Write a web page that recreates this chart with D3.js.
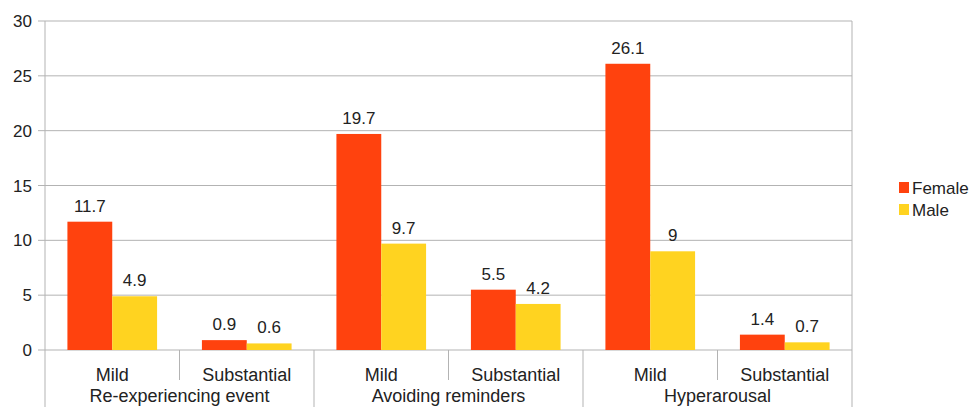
<!DOCTYPE html>
<html>
<head>
<meta charset="utf-8">
<script src="https://cdn.jsdelivr.net/npm/d3@7"></script>
<style>
  body { margin: 0; background: #fff; }
  text { font-family: "Liberation Sans", Arial, sans-serif; fill: #222; }
</style>
</head>
<body>
<div id="chart"></div>
<script>
var groups = ["Re-experiencing event", "Avoiding reminders", "Hyperarousal"];
var levels = ["Mild", "Substantial"];
var seriesNames = ["Female", "Male"];
var female = [11.7, 0.9, 19.7, 5.5, 26.1, 1.4];
var male = [4.9, 0.6, 9.7, 4.2, 9, 0.7];
var yTicks = [0, 5, 10, 15, 20, 25, 30];

var width = 976, height = 407;
var plotLeft = 45, plotRight = 852, plotTop = 21, plotBottom = 350;
var colors = {Female: "#ff420e", Male: "#ffd320"};
var gridColor = "#b3b3b3";

var svg = d3.select("#chart").append("svg")
    .attr("width", width).attr("height", height);

// one slot per group/level pair
var slots = [];
groups.forEach(function(g, gi) {
    levels.forEach(function(l, li) {
        slots.push({group: g, level: l, idx: gi * levels.length + li});
    });
});

var x0 = d3.scaleBand().domain(slots.map(function(d) { return d.idx; }))
    .range([plotLeft, plotRight]).padding(0);
var x1 = d3.scaleBand().domain(seriesNames)
    .range([0, x0.bandwidth()]).paddingInner(0).paddingOuter(0.5);
var y = d3.scaleLinear().domain([0, 30]).range([plotBottom, plotTop]);

// gridlines + tick marks
svg.append("g").selectAll("line")
    .data(yTicks).enter().append("line")
    .attr("x1", plotLeft - 7).attr("x2", plotRight)
    .attr("y1", function(d) { return y(d); })
    .attr("y2", function(d) { return y(d); })
    .attr("stroke", gridColor).attr("stroke-width", 1);

svg.append("g").selectAll("text")
    .data(yTicks).enter().append("text")
    .attr("x", plotLeft - 13)
    .attr("y", function(d) { return y(d) + 6; })
    .attr("text-anchor", "end")
    .style("font-size", "17px")
    .text(function(d) { return d; });

// bars
var barData = [];
slots.forEach(function(s) {
    barData.push({slot: s.idx, name: "Female", value: female[s.idx]});
    barData.push({slot: s.idx, name: "Male", value: male[s.idx]});
});

svg.append("g").selectAll("rect")
    .data(barData).enter().append("rect")
    .attr("x", function(d) { return x0(d.slot) + x1(d.name); })
    .attr("y", function(d) { return y(d.value); })
    .attr("width", x1.bandwidth())
    .attr("height", function(d) { return y(0) - y(d.value); })
    .attr("fill", function(d) { return colors[d.name]; });

svg.append("g").selectAll("text")
    .data(barData).enter().append("text")
    .attr("x", function(d) { return x0(d.slot) + x1(d.name) + x1.bandwidth() / 2; })
    .attr("y", function(d) { return y(d.value) - 10; })
    .attr("text-anchor", "middle")
    .style("font-size", "17px")
    .text(function(d) { return d.value; });

// axis frame
var axisG = svg.append("g");
axisG.append("line")
    .attr("x1", plotLeft).attr("x2", plotLeft).attr("y1", plotTop).attr("y2", height)
    .attr("stroke", gridColor);
axisG.append("line")
    .attr("x1", plotRight).attr("x2", plotRight).attr("y1", plotTop).attr("y2", height)
    .attr("stroke", gridColor);

// separators between slots
slots.forEach(function(s, i) {
    if (i == 0) return;
    var xx = x0(s.idx);
    var isGroupEdge = (i % levels.length == 0);
    axisG.append("line")
        .attr("x1", xx).attr("x2", xx)
        .attr("y1", plotBottom).attr("y2", isGroupEdge ? height : 380)
        .attr("stroke", gridColor);
});

// level labels
svg.append("g").selectAll("text")
    .data(slots).enter().append("text")
    .attr("x", function(d) { return x0(d.idx) + x0.bandwidth() / 2; })
    .attr("y", 381)
    .attr("text-anchor", "middle")
    .style("font-size", "18px")
    .text(function(d) { return d.level; });

// group labels
svg.append("g").selectAll("text")
    .data(groups).enter().append("text")
    .attr("x", function(d, i) {
        var a = x0(i * levels.length);
        var b = x0(i * levels.length + levels.length - 1) + x0.bandwidth();
        return (a + b) / 2;
    })
    .attr("y", 402)
    .attr("text-anchor", "middle")
    .style("font-size", "18px")
    .text(function(d) { return d; });

// legend
var legend = svg.append("g").attr("transform", "translate(899,182)");
seriesNames.forEach(function(n, i) {
    legend.append("rect")
        .attr("x", 0).attr("y", i * 22)
        .attr("width", 10).attr("height", 11)
        .attr("fill", colors[n]);
    legend.append("text")
        .attr("x", 13).attr("y", i * 22 + 12)
        .style("font-size", "17px")
        .text(n);
});
</script>
</body>
</html>
